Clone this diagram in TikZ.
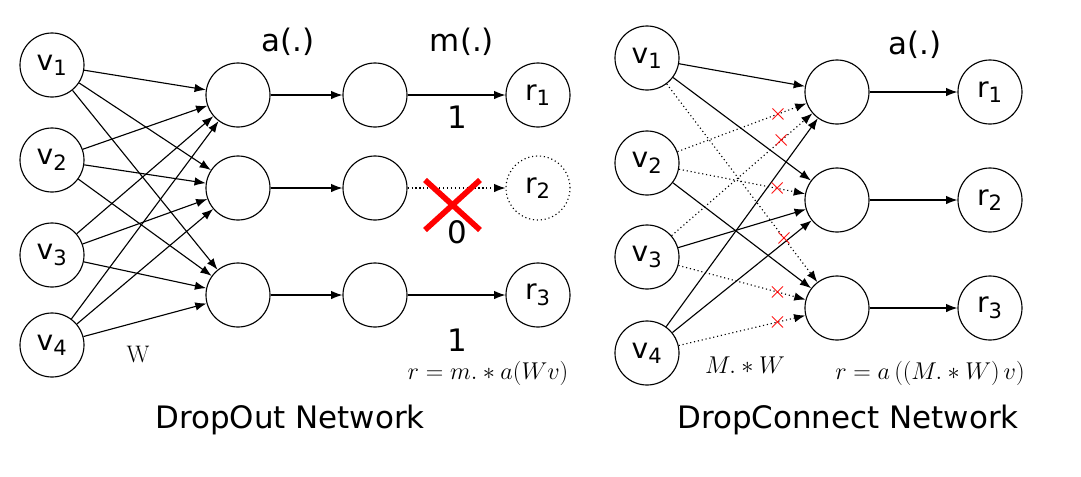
\documentclass[tikz,border=0pt]{standalone}
\usepackage{fontspec}
\setmainfont{DejaVu Sans}
\newfontfamily\lmr{Latin Modern Roman}
\usetikzlibrary{arrows.meta}
\begin{document}
\begin{tikzpicture}[x=0.025cm,y=-0.025cm,
 nd/.style={circle,draw,thick,minimum size=1.6cm,inner sep=0pt,font=\fontsize{20}{22}\selectfont},
 e/.style={thick,-{Latex[length=8pt,width=6pt]}},
 d/.style={thick,dotted,-{Latex[length=8pt,width=6pt]}},
 cx/.style={red,thick,font=\fontsize{18}{18}\selectfont},
 lab/.style={font=\fontsize{22}{24}\selectfont},
 fm/.style={font=\fontsize{17}{18}\selectfont}]
\newcommand{\lsub}[2]{#1\textsubscript{\fontsize{15}{15}\selectfont #2}}
\fill[white] (0,0) rectangle (1081,476);
% left
\foreach \i/\y in {1/65,2/160,3/255,4/345} \node[nd] (v\i) at (52,\y) {\lsub{v}{\i}};
\foreach \i/\y in {1/95,2/188,3/295} {
 \node[nd] (h\i) at (238,\y) {};
 \node[nd] (m\i) at (375,\y) {};
 \draw[e] (h\i) -- (m\i);}
\node[nd] (r1) at (538,95) {\lsub{r}{1}};
\node[nd,dotted] (r2) at (538,188) {\lsub{r}{2}};
\node[nd] (r3) at (538,295) {\lsub{r}{3}};
\foreach \i in {1,2,3,4} \foreach \j in {1,2,3} \draw[e] (v\i) -- (h\j);
\draw[e] (m1) -- (r1);
\draw[d] (m2) -- (r2);
\draw[e] (m3) -- (r3);
\draw[red,line width=4pt] (425,180)--(480,230) (425,230)--(480,180);
\node[lab] (la) at (288,42) {a(.)};
\node[lab] (lm) at (462,42) {m(.)};
\node[lab] (l1) at (457,117) {1};
\node[lab] (l0) at (457,232) {0};
\node[lab] (l3) at (457,340) {1};
\node[fm] (lw) at (138,355) {\lmr W};
\node[fm] (le) at (488,373) {$r = m.*a(Wv)$};
\node[lab] (t1) at (290,420) {DropOut Network};
% right
\foreach \i/\y in {1/58,2/163,3/257,4/353} \node[nd] (u\i) at (647,\y) {\lsub{v}{\i}};
\foreach \i/\y in {1/92,2/200,3/308} {
 \node[nd] (g\i) at (837,\y) {};
 \node[nd] (s\i) at (990,\y) {\lsub{r}{\i}};
 \draw[e] (g\i) -- (s\i);}
\foreach \a/\b in {1/1,1/2,2/3,3/2,4/1,4/2} \draw[e] (u\a) -- (g\b);
\foreach \a/\b in {1/3,2/1,2/2,3/1,3/3,4/3} {
 \draw[d] (u\a) -- (g\b) node[pos=0.78,cx] {$\times$};}
\node[lab] (ra) at (915,45) {a(.)};
\node[fm] (rm) at (745,365) {$M.*W$};
\node[fm] (re) at (930,373) {$r = a\left((M.*W)\,v\right)$};
\node[lab] (t2) at (848,420) {DropConnect Network};
\end{tikzpicture}
\end{document}
